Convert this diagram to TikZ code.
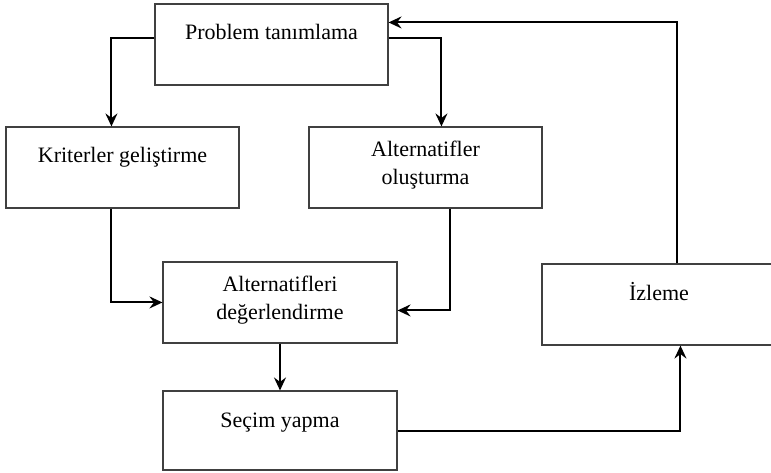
\documentclass[tikz,border=0pt]{standalone}
\usepackage{fontspec}
\setmainfont{Liberation Serif}
\usetikzlibrary{arrows.meta,calc}
\begin{document}
\begin{tikzpicture}[x=1pt,y=-1pt,
  box/.style={draw=black!75,line width=1.1pt,rectangle,inner sep=0pt},
  txt/.style={font=\fontsize{22}{28}\selectfont,align=center,inner sep=0pt,anchor=base},
  arr/.style={line width=2pt,-{Stealth[length=13pt,width=12pt,inset=4.5pt]}}]
\useasboundingbox (0,0) rectangle (771,473);
\begin{scope}
\clip (0,0) rectangle (771,473);
\node[box,minimum width=233pt,minimum height=81pt] (P) at (271.5,44.5) {};
\node[box,minimum width=233pt,minimum height=81pt] (K) at (122.5,167.5) {};
\node[box,minimum width=233pt,minimum height=81pt] (A) at (425.5,167.5) {};
\node[box,minimum width=234pt,minimum height=81pt] (D) at (280,302.5) {};
\node[box,minimum width=234pt,minimum height=79pt] (S) at (280,430.5) {};
\node[box,minimum width=234pt,minimum height=81pt] (I) at (659,304.5) {};
\end{scope}
\node[txt] (Pt) at (271.5,40) {Problem tanımlama};
\node[txt] (Kt) at (122.5,163) {Kriterler geliştirme};
\node[txt] (At) at (425.5,185) {Alternatifler\\oluşturma};
\node[txt] (Dt) at (280,319) {Alternatifleri\\değerlendirme};
\node[txt] (St) at (280,427) {Seçim yapma};
\node[txt] (It) at (659,300) {İzleme};
\draw[arr] ($(P.north west)+(0,35)$) -| ($(K.north west)+(106,0)$);
\draw[arr] ($(P.north east)+(0,35)$) -| ($(A.north west)+(133,0)$);
\draw[arr] ($(K.south west)+(106,0)$) |- ($(D.north west)+(0,41)$);
\draw[arr] ($(A.south west)+(142,0)$) |- ($(D.north east)+(0,49)$);
\draw[arr] (D.south) -- (S.north);
\draw[arr] ($(S.north east)+(0,41)$) -| ($(I.south west)+(139,0)$);
\draw[arr] ($(I.north west)+(136,0)$) |- ($(P.north east)+(0,19)$);
\end{tikzpicture}
\end{document}
